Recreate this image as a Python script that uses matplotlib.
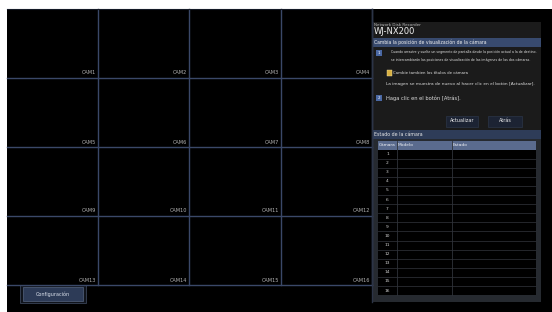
"""Recorder screen: 16-camera grid with the camera-position settings panel."""

import matplotlib.pyplot as plt
from matplotlib.patches import Rectangle

# Screen content
cam_labels = [
    "CAM1", "CAM2", "CAM3", "CAM4",
    "CAM5", "CAM6", "CAM7", "CAM8",
    "CAM9", "CAM10", "CAM11", "CAM12",
    "CAM13", "CAM14", "CAM15", "CAM16",
]
grid_cols = [7, 98, 189, 281, 372]
grid_rows = [9, 78, 147, 216, 285]

device_name = "Network Disk Recorder"
model_name = "WJ-NX200"
section_title = "Cambia la posición de visualización de la cámara"
step1_lines = [
    "Cuando arrastre y suelte un segmento de pantalla desde la posición actual a la de destino,",
    "se intercambiarán las posiciones de visualización de las imágenes de las dos cámaras.",
]
checkbox_text = "Cambie tambien los títulos de cámara"
refresh_note = "La imagen se muestra de nuevo al hacer clic en el botón [Actualizar]."
step2_text = "Haga clic en el botón [Atrás]."
button_labels = ["Actualizar", "Atrás"]
status_title = "Estado de la cámara"
table_headers = ["Cámara", "Modelo", "Estado"]
table_rows = ["1", "2", "3", "4", "5", "6", "7", "8",
              "9", "10", "11", "12", "13", "14", "15", "16"]
config_label = "Configuración"

W, H = 552, 312
GRID = "#3a4868"

fig = plt.figure(figsize=(W / 100, H / 100), dpi=100, facecolor="white")
ax = fig.add_axes([0, 0, 1, 1])
ax.set_xlim(0, W)
ax.set_ylim(H, 0)
ax.axis("off")

# Black screen
ax.add_patch(Rectangle((7, 9), W - 7, H - 9, facecolor="black", edgecolor="none"))

# Camera grid
for x in grid_cols[1:]:
    ax.plot([x, x], [grid_rows[0], grid_rows[-1]], color=GRID, lw=1.0)
for y in grid_rows[1:]:
    ax.plot([grid_cols[0], grid_cols[-1]], [y, y], color=GRID, lw=1.0)
ax.plot([grid_cols[0], grid_cols[-1]], [grid_rows[0], grid_rows[0]], color="#141a26", lw=0.8)

for i, label in enumerate(cam_labels):
    r, c = divmod(i, 4)
    ax.text(grid_cols[c + 1] - 2, grid_rows[r + 1] - 2.5, label, color="#b4b4b4",
            fontsize=3.6, ha="right", va="bottom")

# Configuration button
ax.add_patch(Rectangle((20, 285), 66, 18, facecolor="#10141c", edgecolor="#3a4458", lw=0.6))
ax.add_patch(Rectangle((23, 287), 60, 14, facecolor="#2d3b57", edgecolor="#56647e", lw=0.5))
ax.text(53, 294, config_label, color="#dde3ee", fontsize=3.5, ha="center", va="center")

# Settings panel
PX0, PX1 = 372, 541
ax.add_patch(Rectangle((PX0, 22), PX1 - PX0, 108, facecolor="#1b1b1b", edgecolor="none"))
ax.plot([PX0, PX0], [9, 302], color="#2c3446", lw=1.0)
ax.text(374, 24.5, device_name, color="#bbbbbb", fontsize=3.0, va="center")
ax.text(374, 31.5, model_name, color="#f0f0f0", fontsize=6.0, va="center")

ax.add_patch(Rectangle((PX0, 38), PX1 - PX0, 8.5, facecolor="#384a6e", edgecolor="none"))
ax.text(374, 42.2, section_title, color="#f0f0f0", fontsize=3.3, va="center")

ax.add_patch(Rectangle((376, 49.5), 6, 6, facecolor="#4a68a4", edgecolor="none"))
ax.text(379, 52.5, "1", color="white", fontsize=3.0, ha="center", va="center")
for k, line in enumerate(step1_lines):
    ax.text(391, 52.5 + 7.5 * k, line, color="#dddddd", fontsize=2.3, va="center")

ax.add_patch(Rectangle((386.5, 70), 5, 5.5, facecolor="#d9b040", edgecolor="#f0e0a0", lw=0.3))
ax.text(393, 73, checkbox_text, color="#e0e0e0", fontsize=2.75, va="center")
ax.text(386, 84, refresh_note, color="#dddddd", fontsize=3.1, va="center")

ax.add_patch(Rectangle((376, 95), 6, 6, facecolor="#4a68a4", edgecolor="none"))
ax.text(379, 98, "2", color="white", fontsize=3.0, ha="center", va="center")
ax.text(386, 98, step2_text, color="#dddddd", fontsize=3.7, va="center")

for (x0, x1), label in zip([(446, 478), (488, 522)], button_labels):
    ax.add_patch(Rectangle((x0, 115.5), x1 - x0, 11, facecolor="#1c2333",
                           edgecolor="#2c3548", lw=0.5))
    ax.text((x0 + x1) / 2, 121, label, color="#f0f0f0", fontsize=3.5,
            ha="center", va="center")

# Camera status table
ax.add_patch(Rectangle((PX0, 130), PX1 - PX0, 9, facecolor="#2e3c58", edgecolor="none"))
ax.text(374, 134.5, status_title, color="#e8e8e8", fontsize=3.4, va="center")
ax.add_patch(Rectangle((PX0 + 1, 139), PX1 - PX0 - 1, 163, facecolor="#262a30", edgecolor="none"))

TX0, TX1 = 378, 536
col_x = [TX0, 397, 452, TX1]
row_top, row_h = 149.5, 9.1
n_rows = len(table_rows)
ax.add_patch(Rectangle((TX0, 141), TX1 - TX0, 8.5, facecolor="#5a6b8e", edgecolor="none"))
for x, label in zip(col_x[:-1], table_headers):
    ax.text(x + 1, 145.2, label, color="#eef0f4", fontsize=3.2, va="center")
ax.add_patch(Rectangle((TX0, row_top), TX1 - TX0, n_rows * row_h,
                       facecolor="black", edgecolor="none"))
for j in range(1, n_rows):
    y = row_top + j * row_h
    ax.plot([TX0, TX1], [y, y], color="#2a2d33", lw=0.6)
for x in col_x[1:-1]:
    ax.plot([x, x], [141, row_top + n_rows * row_h], color="#2f333a", lw=0.6)
for j, label in enumerate(table_rows):
    ax.text(387.5, row_top + (j + 0.5) * row_h, label, color="#d0d0d0",
            fontsize=3.2, ha="center", va="center")

fig.savefig("out.png", dpi=100, facecolor="white")
plt.close(fig)
